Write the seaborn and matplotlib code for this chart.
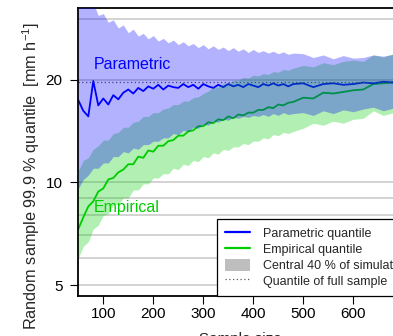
import numpy as np
import pandas as pd
import seaborn as sns
import matplotlib.pyplot as plt
from matplotlib.lines import Line2D
from matplotlib.patches import Patch

# sample sizes (dense part every 10, sparse part every 20)
sample_size = [50, 60, 70, 80, 90, 100, 110, 120, 130, 140, 150, 160, 170, 180, 190,
               200, 210, 220, 230, 240, 250, 260, 270, 280, 290, 300, 310, 320, 330, 340,
               350, 360, 370, 380, 390, 400, 410, 420, 430, 440, 450, 460, 470, 480,
               500, 520, 540, 560, 580, 600, 620, 640, 660, 680, 700]

# median of simulated 99.9 % quantiles
parametric_q = [17.4, 16.2, 15.6, 19.8, 16.8, 17.6, 16.9, 18.0, 17.5, 18.3, 18.7, 18.2, 18.9, 18.5, 19.1,
                18.8, 19.3, 18.7, 19.2, 19.0, 18.9, 19.4, 19.0, 19.3, 18.8, 19.4, 19.1, 18.9, 19.3, 19.0,
                19.4, 19.1, 19.3, 19.0, 19.4, 19.2, 19.0, 19.4, 19.2, 19.5, 19.2, 19.4, 19.1, 19.4,
                19.5, 19.0, 19.4, 19.5, 19.3, 19.4, 19.6, 19.5, 19.7, 19.6, 19.5]
empirical_q = [7.3, 7.9, 8.5, 8.8, 9.4, 9.6, 10.2, 10.3, 10.7, 10.9, 11.3, 11.3, 11.9, 11.8, 12.4,
               12.3, 12.8, 12.8, 13.2, 13.3, 13.7, 13.7, 14.1, 14.2, 14.6, 14.6, 15.0, 14.9, 15.3, 15.2,
               15.6, 15.4, 15.8, 15.7, 16.0, 16.0, 16.3, 16.3, 16.6, 16.5, 16.9, 16.8, 17.1, 17.2,
               17.7, 17.6, 18.3, 18.2, 18.4, 18.6, 18.7, 19.4, 19.5, 19.6, 19.4]

# central 40 % of simulations
param_lo = [9.6, 10.2, 10.5, 11.0, 11.0, 11.4, 11.4, 11.9, 11.9, 12.3, 12.2, 12.6, 12.5, 12.9, 12.9,
            13.2, 13.2, 13.5, 13.5, 13.9, 13.8, 14.2, 14.1, 14.5, 14.4, 14.8, 14.7, 15.1, 15.0, 15.3,
            15.2, 15.5, 15.4, 15.6, 15.5, 15.7, 15.6, 15.8, 15.6, 15.9, 15.7, 16.0, 15.8, 15.9,
            16.0, 15.7, 16.2, 15.9, 16.3, 16.1, 16.4, 16.6, 16.2, 16.5, 16.3]
param_hi = [40.0, 38.0, 35.0, 33.5, 30.8, 31.2, 29.4, 29.9, 28.3, 28.9, 27.4, 28.1, 26.8, 27.3, 26.3,
            26.9, 25.9, 26.4, 25.6, 26.1, 25.3, 25.8, 25.1, 25.5, 24.8, 25.3, 24.6, 25.1, 24.5, 24.9,
            24.3, 24.8, 24.2, 24.6, 24.0, 24.5, 24.0, 24.3, 23.9, 24.2, 23.8, 24.1, 23.7, 23.9,
            23.8, 23.2, 23.6, 23.0, 23.5, 23.1, 23.2, 23.6, 23.4, 23.7, 23.5]
emp_lo = [6.0, 6.5, 6.7, 7.3, 7.5, 8.0, 8.1, 8.6, 8.6, 9.0, 9.0, 9.5, 9.5, 9.9, 9.9,
          10.3, 10.3, 10.6, 10.6, 11.0, 10.9, 11.3, 11.2, 11.6, 11.5, 11.9, 11.8, 12.2, 12.1, 12.5,
          12.4, 12.7, 12.7, 13.0, 12.9, 13.2, 13.2, 13.5, 13.4, 13.8, 13.7, 14.0, 13.9, 14.1,
          14.4, 14.9, 14.7, 15.1, 14.9, 15.3, 15.4, 16.2, 15.7, 16.0, 15.8]
emp_hi = [10.8, 11.6, 11.8, 12.5, 12.8, 13.3, 13.3, 13.9, 14.0, 14.5, 14.5, 15.0, 15.1, 15.6, 15.6,
          16.0, 16.0, 16.4, 16.5, 16.9, 16.9, 17.3, 17.3, 17.7, 17.8, 18.2, 18.5, 19.0, 19.0, 19.5,
          19.5, 19.9, 19.9, 20.3, 20.2, 20.6, 20.5, 20.8, 20.7, 21.1, 21.0, 21.4, 21.3, 21.6,
          22.0, 21.8, 22.4, 22.1, 22.6, 22.8, 22.6, 23.6, 23.3, 23.8, 23.5]

full_sample_q = 19.7
y_major = [5, 10, 20]
y_minor = [6, 7, 8, 9, 30]
x_ticks = [100, 200, 300, 400, 500, 600]

df = pd.DataFrame({'n': sample_size, 'param': parametric_q, 'emp': empirical_q})

sns.set_style('ticks')
plt.rcParams['font.family'] = ['Liberation Sans', 'DejaVu Sans']
plt.rcParams['mathtext.fontset'] = 'custom'
plt.rcParams['mathtext.rm'] = 'Liberation Sans'

blue = '#0000FF'
green = '#00CD00'

fig = plt.figure(figsize=(3.93, 3.36), dpi=100)
ax = fig.add_axes([0.1992, 0.12, 0.827, 0.855])

# lines first, the transparent bands go on top of them
sns.lineplot(data=df, x='n', y='emp', color=green, lw=1.3, ax=ax, zorder=2)
sns.lineplot(data=df, x='n', y='param', color=blue, lw=1.3, ax=ax, zorder=2)
ax.axhline(full_sample_q, color='0.35', ls=(0, (1, 2)), lw=0.9, zorder=2)
ax.fill_between(sample_size, emp_lo, emp_hi, color=green, alpha=0.3, lw=0, zorder=3)
ax.fill_between(sample_size, param_lo, param_hi, color=blue, alpha=0.3, lw=0, zorder=3)

ax.set_yscale('log')
ax.set_xlim(50, 700)
ax.set_ylim(4.66, 32.3)
ax.set_yticks(y_major)
ax.set_yticklabels([str(v) for v in y_major])
ax.set_yticks(y_minor, minor=True)
ax.set_yticklabels([], minor=True)
ax.set_xticks(x_ticks)
ax.grid(which='both', axis='y', color='#C8C8C8', lw=1.1)
ax.set_axisbelow(True)
ax.tick_params(which='major', length=5.8, width=0.8, labelsize=11, colors='black')
ax.tick_params(which='minor', length=0)
ax.tick_params(axis='y', pad=5.5)
ax.tick_params(axis='x', pad=2)
for s in ax.spines.values():
    s.set_linewidth(1.3)
    s.set_color('black')

ax.set_ylabel('Random sample 99.9 % quantile  [mm h$^{\\mathregular{-1}}$]', fontsize=11.7)
ax.yaxis.set_label_coords(-0.112, 0.415)
ax.set_xlabel('Sample size', fontsize=11, labelpad=8)

ax.text(80, 22.2, 'Parametric', color=blue, fontsize=11.5, va='center')
ax.text(80, 8.47, 'Empirical', color=green, fontsize=11.5, va='center')

handles = [Line2D([], [], color=blue, lw=1.6),
           Line2D([], [], color=green, lw=1.6),
           Patch(facecolor='#BEBEBE', edgecolor='none'),
           Line2D([], [], color='0.35', ls=(0, (1, 2)), lw=0.9)]
labels = ['Parametric quantile', 'Empirical quantile',
          'Central 40 % of simulations', 'Quantile of full sample']
leg = ax.legend(handles, labels, loc='lower left', bbox_to_anchor=(0.4268, 0.0),
                borderaxespad=0, fontsize=9.0, frameon=True, fancybox=False,
                edgecolor='black', framealpha=1, borderpad=0.65, labelspacing=0.2,
                handlelength=2.0, handleheight=1.1, handletextpad=1.0)
leg.get_frame().set_linewidth(0.9)
leg.set_zorder(5)

fig.savefig('out.png', dpi=100)
